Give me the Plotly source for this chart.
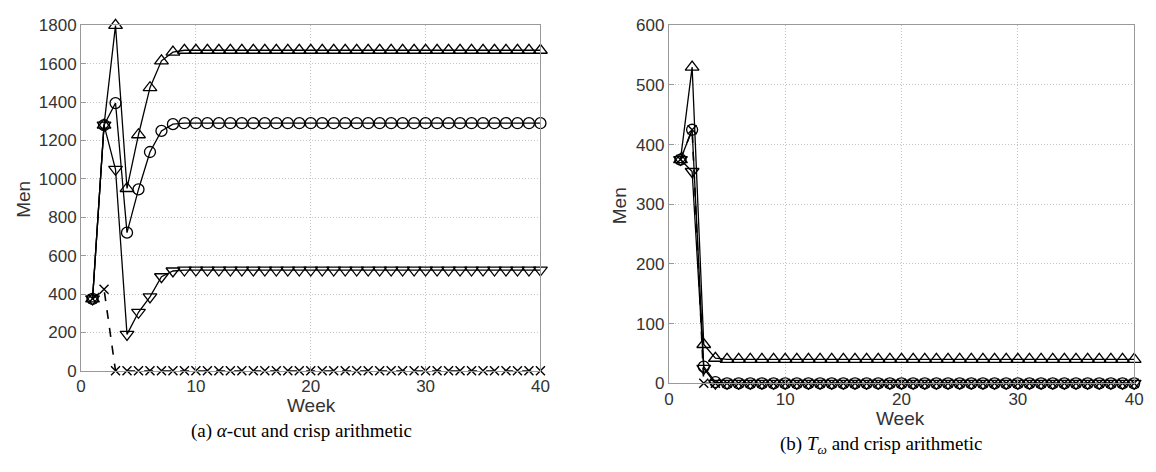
import plotly.graph_objects as go

weeks = list(range(1, 41))

# Panel (a): alpha-cut and crisp arithmetic
a_upper = [375, 1280, 1800, 950, 1230, 1475, 1615, 1660] + [1670] * 32
a_mid = [375, 1280, 1395, 720, 945, 1140, 1250, 1285] + [1290] * 32
a_lower = [375, 1280, 1050, 190, 305, 385, 490, 520] + [525] * 32
a_crisp = [375, 425, 0] + [0] * 37

# Panel (b): T_omega and crisp arithmetic
b_upper = [375, 530, 65, 42] + [40] * 36
b_mid = [375, 425, 28, 2] + [0] * 36
b_lower = [375, 355, 25, 0] + [0] * 36
b_crisp = [375, 425, 0] + [0] * 37

W, H = 1156, 472
L = dict(x0=77, x1=542, y0=17, y1=377)
R = dict(x0=672, x1=1143, y0=17, y1=390)

fig = go.Figure()

def add_series(xref, yref, upper, mid, lower, crisp):
    common = dict(xaxis=xref, yaxis=yref, mode="lines+markers", showlegend=False, cliponaxis=False)
    fig.add_trace(go.Scatter(x=weeks, y=upper, line=dict(color="black", width=1.3),
                             marker=dict(symbol="triangle-up-open", size=12, color="black", line=dict(width=1.3)), **common))
    fig.add_trace(go.Scatter(x=weeks, y=mid, line=dict(color="black", width=1.3),
                             marker=dict(symbol="circle-open", size=11, color="black", line=dict(width=1.3)), **common))
    fig.add_trace(go.Scatter(x=weeks, y=lower, line=dict(color="black", width=1.3),
                             marker=dict(symbol="triangle-down-open", size=12, color="black", line=dict(width=1.3)), **common))
    fig.add_trace(go.Scatter(x=weeks, y=crisp, line=dict(color="black", width=1.6, dash="dash"),
                             marker=dict(symbol="x-thin-open", size=9, color="black", line=dict(width=1.4, color="black")), **common))

add_series("x", "y", a_upper, a_mid, a_lower, a_crisp)
add_series("x2", "y2", b_upper, b_mid, b_lower, b_crisp)

tickfont = dict(family="Liberation Sans, Arial, sans-serif", size=17, color="#333333")
axis_common = dict(showgrid=True, gridcolor="#c4c4c4", griddash="1px,2px", gridwidth=1,
                   showline=True, linecolor="#999999", linewidth=1, mirror=True,
                   ticks="inside", ticklen=5, tickcolor="#999999", tickfont=tickfont,
                   zeroline=False, fixedrange=True)

def dom(p):
    return ([p["x0"] / W, p["x1"] / W], [(H - p["y1"]) / H, (H - p["y0"]) / H])

lx, ly = dom(L)
rx, ry = dom(R)

fig.update_layout(
    width=W, height=H, margin=dict(l=0, r=0, t=0, b=0),
    paper_bgcolor="white", plot_bgcolor="white",
    xaxis=dict(domain=lx, range=[0, 40], dtick=10, anchor="y", ticklabelstandoff=0, **axis_common),
    yaxis=dict(domain=ly, range=[0, 1800], dtick=200, anchor="x", **axis_common),
    xaxis2=dict(domain=rx, range=[0, 40], dtick=10, anchor="y2", ticklabelstandoff=0, **axis_common),
    yaxis2=dict(domain=ry, range=[0, 600], dtick=100, anchor="x2", **axis_common),
)

labfont = dict(family="Liberation Sans, Arial, sans-serif", size=19, color="#333333")
capfont = dict(family="Liberation Serif, Times New Roman, serif", size=19, color="black")

def ann(text, x, y, font, angle=0):
    fig.add_annotation(text=text, x=x / W, y=1 - y / H, xref="paper", yref="paper",
                       showarrow=False, font=font, textangle=angle, xanchor="center",
                       yanchor="middle", borderpad=0)

ann("Men", 18, 198, labfont, -90)
ann("Week", 310, 413, labfont)
ann("Men", 622, 205, labfont, -90)
ann("Week", 906, 427, labfont)
ann("(a) <i>α</i>-cut and crisp arithmetic", 300, 440, capfont)
ann("(b) <i>T</i><sub><i>ω</i></sub> and crisp arithmetic", 887, 454, capfont)

fig.write_html("out.html")
